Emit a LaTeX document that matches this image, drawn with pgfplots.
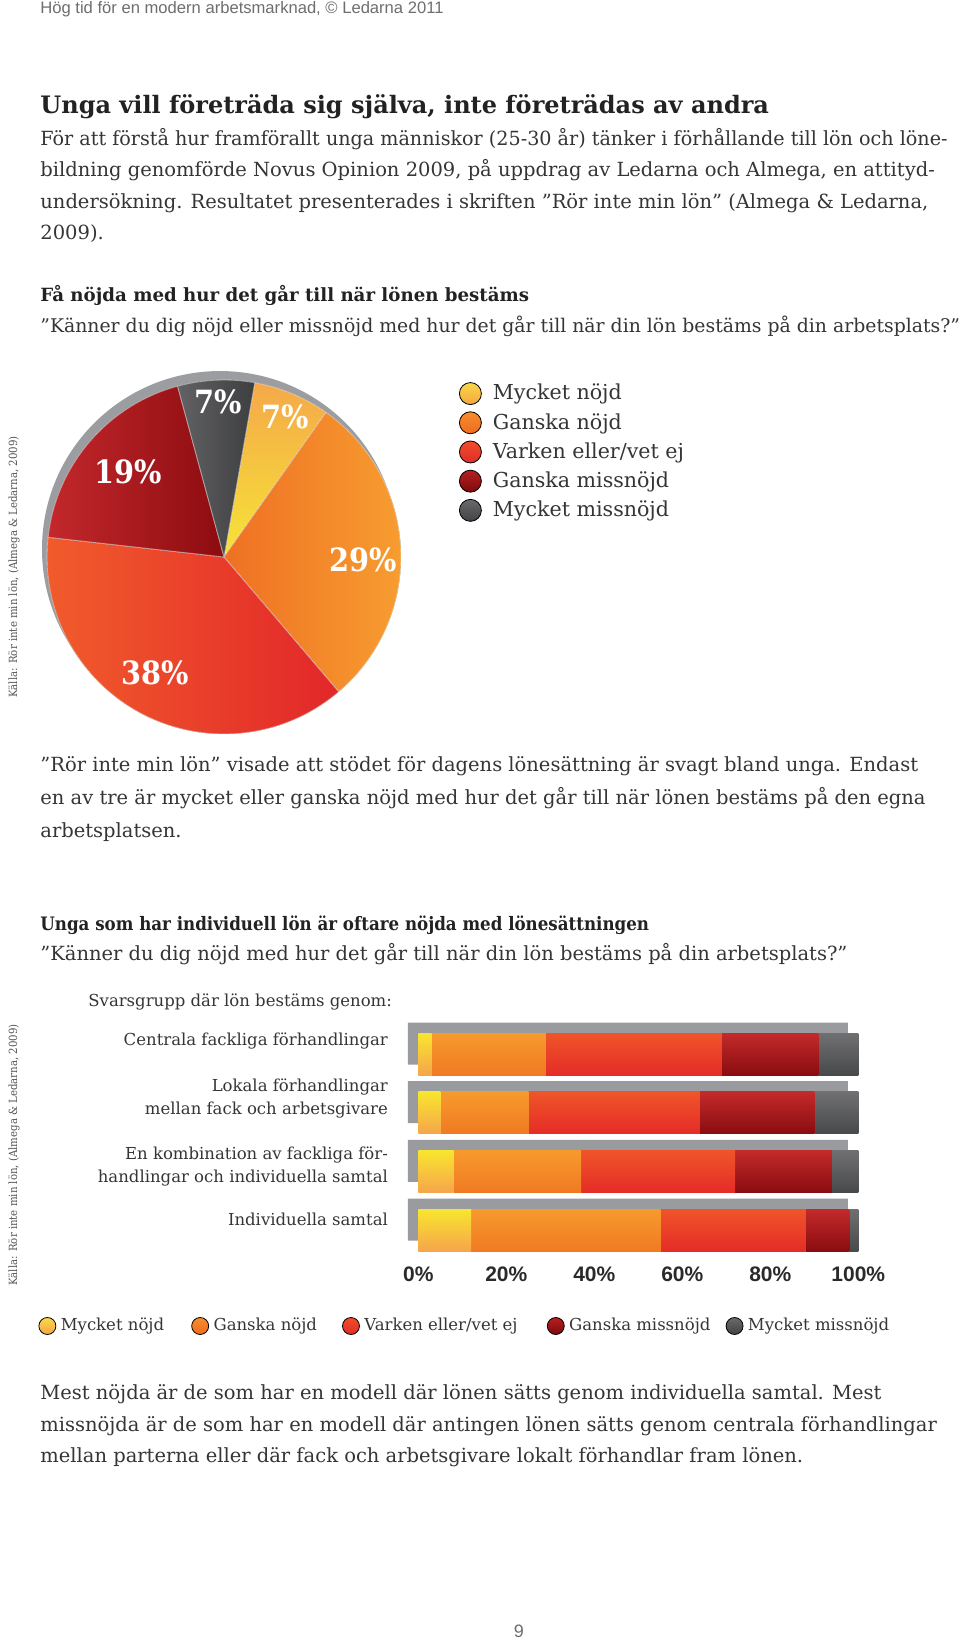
\documentclass[border=0pt]{standalone}
\usepackage{fontspec}
\usepackage{xcolor}
\usepackage{graphicx}
\usepackage{pgfplots}
\usepackage{pgfplotstable}
\pgfplotsset{compat=1.18}
\setmainfont{DejaVu Serif}
\newfontfamily\sansf{Liberation Sans}
\newfontfamily\condf{DejaVu Serif Condensed}

\definecolor{bodycol}{HTML}{353535}
\definecolor{headcol}{HTML}{222222}
\definecolor{hdrgray}{HTML}{6E6E6E}
\definecolor{vertcol}{HTML}{555555}
\definecolor{tickcol}{HTML}{2A2A2A}
\definecolor{shadowgray}{HTML}{9C9DA1}
\definecolor{boxgray}{HTML}{9A9B9F}
% pie
\definecolor{pYt}{HTML}{F5A84A}\definecolor{pYb}{HTML}{F6E436}
\definecolor{pOl}{HTML}{EF7024}\definecolor{pOr}{HTML}{F79E30}
\definecolor{pRl}{HTML}{F15C2B}\definecolor{pRr}{HTML}{E2272A}
\definecolor{pDl}{HTML}{C3282C}\definecolor{pDr}{HTML}{8C0C10}
\definecolor{pGl}{HTML}{626264}\definecolor{pGr}{HTML}{3D3E40}
% bars
\definecolor{bYt}{HTML}{F8E62E}\definecolor{bYb}{HTML}{F6A54B}
\definecolor{bOt}{HTML}{F79A2D}\definecolor{bOb}{HTML}{F07A22}
\definecolor{bRt}{HTML}{EF5529}\definecolor{bRb}{HTML}{E52C27}
\definecolor{bDt}{HTML}{C42A2B}\definecolor{bDb}{HTML}{8A0C0F}
\definecolor{bGt}{HTML}{707072}\definecolor{bGb}{HTML}{48494B}
% legend circles
\definecolor{lYt}{HTML}{F9D84A}\definecolor{lYb}{HTML}{F5A540}
\definecolor{lOt}{HTML}{F68D2B}\definecolor{lOb}{HTML}{EF6B21}
\definecolor{lRt}{HTML}{EF4E2A}\definecolor{lRb}{HTML}{DF2D28}
\definecolor{lDt}{HTML}{B61F23}\definecolor{lDb}{HTML}{7D0A0D}
\definecolor{lGt}{HTML}{6A6A6C}\definecolor{lGb}{HTML}{424244}

\pgfplotstableread{
value
7
29
38
19
7
}\pietable

\pgfplotstableread{
cat my gn ve gm mm tot
3 3 26 40 22 9 100
2 5 20 39 26 10 100
1 8 29 35 22 6 100
0 12 43 33 10 2 100
}\bartable

\tikzset{
  sl0/.style={top color=pYt, bottom color=pYb, draw=white, draw opacity=0.5, line width=0.4pt},
  sl1/.style={left color=pOl, right color=pOr, draw=white, draw opacity=0.5, line width=0.4pt},
  sl2/.style={left color=pRl, right color=pRr, draw=white, draw opacity=0.5, line width=0.4pt},
  sl3/.style={left color=pDl, right color=pDr, draw=white, draw opacity=0.5, line width=0.4pt},
  sl4/.style={left color=pGl, right color=pGr, draw=white, draw opacity=0.5, line width=0.4pt},
  T/.style={anchor=base west, inner sep=0pt, text=bodycol, font=\fontsize{9.75}{11}\selectfont},
  L/.style={anchor=base east, inner sep=0pt, text=bodycol, font=\fontsize{8.25}{10}\selectfont},
  pielab/.style={text=white, inner sep=0pt, font=\condf\bfseries\fontsize{16}{18}\selectfont},
}

\begin{document}
\begin{tikzpicture}
\useasboundingbox (0,0) rectangle (480pt,-823pt);
\fill[white] (0,0) rectangle (480pt,-823pt);
\begin{scope}[x=0.5pt,y=-0.5pt]
\node[anchor=base west, inner sep=0pt, text=hdrgray, font=\sansf\fontsize{8.3}{9}\selectfont] at (40,13.3) {Hög tid för en modern arbetsmarknad, © Ledarna 2011};
\node[anchor=base west, inner sep=0pt, text=headcol, font=\bfseries\fontsize{12}{13}\selectfont] at (40,113.3) {Unga vill företräda sig själva, inte företrädas av andra};
\node[T] at (40,145.7) {\scalebox{0.982}[1]{För att förstå hur framförallt unga människor (25-30 år) tänker i förhållande till lön och löne-}};
\node[T] at (40,176.9) {bildning genomförde Novus Opinion 2009, på uppdrag av Ledarna och Almega, en attityd-};
\node[T] at (40,208.2) {undersökning. Resultatet presenterades i skriften ”Rör inte min lön” (Almega \& Ledarna,};
\node[T] at (40,239.4) {2009).};
\node[anchor=base west, inner sep=0pt, text=headcol, font=\bfseries\fontsize{9.1}{11}\selectfont] at (40,301.7) {Få nöjda med hur det går till när lönen bestäms};
\node[T, font=\fontsize{9.42}{11}\selectfont] at (40,332.5) {”Känner du dig nöjd eller missnöjd med hur det går till när din lön bestäms på din arbetsplats?”};
\node[T] at (40,771) {”Rör inte min lön” visade att stödet för dagens lönesättning är svagt bland unga. Endast};
\node[T] at (40,804) {en av tre är mycket eller ganska nöjd med hur det går till när lönen bestäms på den egna};
\node[T] at (40,837) {arbetsplatsen.};
\node[anchor=base west, inner sep=0pt, text=headcol, font=\condf\bfseries\fontsize{9.27}{11}\selectfont] at (40,930) {Unga som har individuell lön är oftare nöjda med lönesättningen};
\node[T] at (40,960) {”Känner du dig nöjd med hur det går till när din lön bestäms på din arbetsplats?”};
\node[anchor=base west, inner sep=0pt, text=bodycol, font=\fontsize{8.25}{10}\selectfont] at (88,1006) {Svarsgrupp där lön bestäms genom:};
\node[L] at (388.3,1045.7) {Centrala fackliga förhandlingar};
\node[L] at (388.3,1091) {Lokala förhandlingar};
\node[L] at (388.3,1114.3) {mellan fack och arbetsgivare};
\node[L] at (388.3,1159) {En kombination av fackliga för-};
\node[L] at (388.3,1182) {handlingar och individuella samtal};
\node[L] at (388.3,1225) {Individuella samtal};
\node[T] at (40,1399) {Mest nöjda är de som har en modell där lönen sätts genom individuella samtal. Mest};
\node[T] at (40,1431) {missnöjda är de som har en modell där antingen lönen sätts genom centrala förhandlingar};
\node[T] at (40,1462) {mellan parterna eller där fack och arbetsgivare lokalt förhandlar fram lönen.};
\node[anchor=base, inner sep=0pt, text=hdrgray, font=\sansf\fontsize{9}{10}\selectfont] at (519,1637) {9};
\node[rotate=90, anchor=center, inner sep=0pt, text=vertcol, font=\condf\fontsize{5.65}{7}\selectfont] at (14,567) {Källa: Rör inte min lön, (Almega \& Ledarna, 2009)};
\node[rotate=90, anchor=center, inner sep=0pt, text=vertcol, font=\condf\fontsize{5.65}{7}\selectfont] at (14,1155) {Källa: Rör inte min lön, (Almega \& Ledarna, 2009)};
\end{scope}

% ---------------- pie chart ----------------
\begin{axis}[
  at={(112pt,-278.5pt)}, anchor=center,
  scale only axis, width=194.7pt, height=194.7pt,
  xmin=-1.1, xmax=1.1, ymin=-1.1, ymax=1.1,
  hide axis, clip=false,
  legend cell align=left,
  legend style={draw=none, fill=none, at={(1.1035,0.949)}, anchor=north west,
    inner sep=0pt, outer sep=0pt, row sep=3.2pt,
    font=\fontsize{10.3}{12}\selectfont, text=bodycol,
    nodes={inner sep=0pt},
    /tikz/every odd column/.append style={column sep=5.5pt}},
]
\fill[shadowgray] (axis cs:-0.0226,0.045) circle[radius=89pt];
\xdef\startang{80}
\foreach \i in {0,1,2,3,4}{%
  \pgfplotstablegetelem{\i}{value}\of\pietable
  \pgfmathsetmacro\endang{\startang-3.6*\pgfplotsretval}%
  \edef\doslice{\noexpand\fill[sl\i] (axis cs:0,0) -- (axis cs:{cos(\startang)},{sin(\startang)}) arc[start angle=\startang, end angle=\endang, radius=88.5pt] -- cycle;}%
  \doslice
  \xdef\startang{\endang}%
}
\node[pielab] at (axis cs:-0.034,0.876) {7\%};
\node[pielab] at (axis cs:0.345,0.791) {7\%};
\node[pielab] at (axis cs:-0.542,0.480) {19\%};
\node[pielab] at (axis cs:0.785,-0.017) {29\%};
\node[pielab] at (axis cs:-0.390,-0.655) {38\%};
\addlegendimage{legend image code/.code={\shade[top color=lYt,bottom color=lYb] (5.5pt,0pt) circle[radius=5.5pt];}}
\addlegendentry{Mycket nöjd}
\addlegendimage{legend image code/.code={\shade[top color=lOt,bottom color=lOb] (5.5pt,0pt) circle[radius=5.5pt];}}
\addlegendentry{Ganska nöjd}
\addlegendimage{legend image code/.code={\shade[top color=lRt,bottom color=lRb] (5.5pt,0pt) circle[radius=5.5pt];}}
\addlegendentry{Varken eller/vet ej}
\addlegendimage{legend image code/.code={\shade[top color=lDt,bottom color=lDb] (5.5pt,0pt) circle[radius=5.5pt];}}
\addlegendentry{Ganska missnöjd}
\addlegendimage{legend image code/.code={\shade[top color=lGt,bottom color=lGb] (5.5pt,0pt) circle[radius=5.5pt];}}
\addlegendentry{Mycket missnöjd}
\end{axis}

% ---------------- bar chart: 3D back boxes ----------------
\begin{axis}[
  at={(203.9pt,-507.075pt)}, anchor=north west,
  scale only axis, width=220pt, height=117.375pt,
  xmin=0, xmax=100, ymin=-0.5, ymax=3.5,
  hide axis, xbar, bar width=21pt,
]
\addplot[fill=boxgray, draw=none] table[x=tot,y=cat]{\bartable};
\end{axis}

% ---------------- bar chart: front bars, one axis per group so each bar has its own gradient ----------------
\foreach \k in {0,1,2,3}{%
\begin{axis}[
  at={(209.15pt,-512.325pt)}, anchor=north west,
  scale only axis, width=220pt, height=117.375pt,
  xmin=0, xmax=100, ymin=-0.5, ymax=3.5,
  hide axis, xbar stacked, bar width=21pt,
  restrict y to domain=\k:\k,
]
\addplot[draw=none, top color=bYt, bottom color=bYb] table[x=my,y=cat]{\bartable};
\addplot[draw=none, top color=bOt, bottom color=bOb] table[x=gn,y=cat]{\bartable};
\addplot[draw=none, top color=bRt, bottom color=bRb] table[x=ve,y=cat]{\bartable};
\addplot[draw=none, top color=bDt, bottom color=bDb] table[x=gm,y=cat]{\bartable};
\addplot[draw=none, top color=bGt, bottom color=bGb] table[x=mm,y=cat]{\bartable};
\end{axis}
}

% ---------------- bar chart: ticks and legend ----------------
\begin{axis}[
  at={(209.15pt,-512.325pt)}, anchor=north west,
  scale only axis, width=220pt, height=117.375pt,
  xmin=0, xmax=100, ymin=-0.5, ymax=3.5,
  axis line style={draw=none}, major tick length=0pt, tick style={draw=none},
  ytick=\empty,
  xtick={0,20,40,60,80,100},
  xticklabels={0\%,20\%,40\%,60\%,80\%,100\%},
  /pgf/number format/assume math mode=true,
  xticklabel style={font=\sansf\bfseries\fontsize{10.5}{12}\selectfont, text=tickcol, anchor=base, inner sep=0pt, yshift=-11.15pt},
  legend columns=5, legend cell align=left,
  legend style={draw=none, fill=none, at={(-0.8632,-0.2837)}, anchor=west,
    inner sep=0pt, outer sep=0pt,
    font=\fontsize{8.25}{10}\selectfont, text=bodycol,
    nodes={inner sep=0pt},
    /tikz/every odd column/.append style={column sep=2.25pt}},
]
\addlegendimage{legend image code/.code={\shade[top color=lYt,bottom color=lYb] (4.25pt,0pt) circle[radius=4.25pt];}}
\addlegendentry{\makebox[65.25pt][l]{Mycket nöjd}}
\addlegendimage{legend image code/.code={\shade[top color=lOt,bottom color=lOb] (4.25pt,0pt) circle[radius=4.25pt];}}
\addlegendentry{\makebox[64.25pt][l]{Ganska nöjd}}
\addlegendimage{legend image code/.code={\shade[top color=lRt,bottom color=lRb] (4.25pt,0pt) circle[radius=4.25pt];}}
\addlegendentry{\makebox[91.25pt][l]{Varken eller/vet ej}}
\addlegendimage{legend image code/.code={\shade[top color=lDt,bottom color=lDb] (4.25pt,0pt) circle[radius=4.25pt];}}
\addlegendentry{\makebox[78.25pt][l]{Ganska missnöjd}}
\addlegendimage{legend image code/.code={\shade[top color=lGt,bottom color=lGb] (4.25pt,0pt) circle[radius=4.25pt];}}
\addlegendentry{Mycket missnöjd}
\end{axis}
\end{tikzpicture}
\end{document}
